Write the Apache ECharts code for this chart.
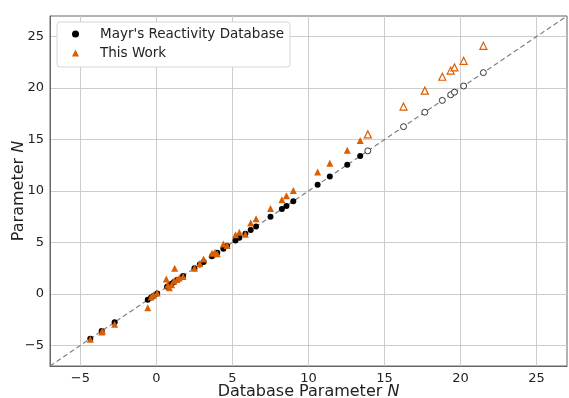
<!DOCTYPE html>
<html>
<head>
<meta charset="utf-8">
<script src="https://cdn.jsdelivr.net/npm/echarts@6/dist/echarts.min.js"></script>
<style>
  html, body { margin: 0; padding: 0; background: #fff; }
  #chart { width: 569px; height: 398px; }
</style>
</head>
<body>
<div id="chart"></div>
<script>
// Mayr database N (x) and its own value on y (filled = training set)
const mayrX = [-4.35, -3.6, -2.75, -0.57, -0.35, -0.2, 0.05, 0.7, 0.85, 1.0, 1.15, 1.35, 1.75,
  2.5, 2.85, 3.1, 3.65, 3.85, 4.0, 4.4, 4.65, 5.2, 5.45, 5.85, 6.2, 6.55, 7.5, 8.25, 8.55, 9.0,
  10.6, 11.4, 12.55, 13.4]
const mayrY = [-4.35, -3.6, -2.75, -0.57, -0.35, -0.2, 0.05, 0.7, 0.85, 1.0, 1.15, 1.35, 1.75,
  2.5, 2.85, 3.1, 3.65, 3.85, 4.0, 4.4, 4.65, 5.2, 5.45, 5.85, 6.2, 6.55, 7.5, 8.25, 8.55, 9.0,
  10.6, 11.4, 12.55, 13.4]
// open circles (outside range)
const mayrOpenX = [13.9, 16.25, 17.65, 18.8, 19.35, 19.6, 20.2, 21.5]
const mayrOpenY = [13.9, 16.25, 17.65, 18.8, 19.35, 19.6, 20.2, 21.5]

// this work
const workX = [-4.35, -3.6, -3.55, -2.75, -0.57, -0.35, -0.2, 0.05, 0.65, 0.75, 0.85, 1.0, 1.2,
  1.15, 1.35, 1.5, 1.75, 2.5, 2.85, 3.1, 3.65, 3.85, 4.0, 4.4, 4.65, 5.2, 5.45, 5.85, 6.2, 6.55,
  7.5, 8.25, 8.55, 9.0, 10.6, 11.4, 12.55, 13.4]
const workY = [-4.4, -3.7, -3.6, -2.95, -1.35, -0.3, -0.1, 0.1, 1.45, 0.85, 0.6, 0.9, 2.5,
  1.25, 1.4, 1.55, 1.7, 2.5, 2.95, 3.4, 3.95, 4.05, 3.9, 4.85, 4.7, 5.75, 6.0, 5.8, 6.9, 7.3,
  8.3, 9.15, 9.55, 10.05, 11.85, 12.7, 13.95, 14.9]
const workOpenX = [13.9, 16.25, 17.65, 18.8, 19.35, 19.6, 20.2, 21.5]
const workOpenY = [15.5, 18.2, 19.75, 21.1, 21.7, 22.0, 22.65, 24.1]

const ticks = [-5, 0, 5, 10, 15, 20, 25]
const axisMin = -7
const axisMax = 27

const pairs = (xs, ys) => xs.map((x, i) => [x, ys[i]])

const orange = '#d95f02'
const font = 'DejaVu Sans'

function axis (name, isY) {
  return {
    type: 'value',
    min: axisMin,
    max: axisMax,
    name: name,
    nameLocation: 'middle',
    nameGap: isY ? 23 : 18,
    nameMoveOverlap: false,
    nameTextStyle: {
      fontFamily: font, fontSize: 16, color: '#222',
      rich: { i: { fontFamily: font, fontSize: 16, fontStyle: 'italic', color: '#222' } }
    },
    axisLine: { show: true, onZero: false, lineStyle: { color: '#666', width: 1 } },
    axisTick: { show: false, customValues: ticks },
    axisLabel: {
      customValues: ticks,
      fontFamily: font, fontSize: 13, color: '#222', margin: 6,
      formatter: v => String(v).replace('-', '\u2212')
    },
    splitLine: { show: true, lineStyle: { color: '#cccccc', width: 1 } }
  }
}

let chart = echarts.init(document.getElementById('chart'))
chart.setOption({
  animation: false,
  backgroundColor: '#fff',
  grid: {
    left: 50, right: 2, top: 16, bottom: 32,
    outerBoundsMode: 'none', containLabel: false,
    show: true, borderColor: '#666', borderWidth: 1
  },
  xAxis: axis('Database Parameter {i|N}', false),
  yAxis: axis('Parameter {i|N}', true),
  legend: {
    data: ["Mayr's Reactivity Database", 'This Work'],
    orient: 'vertical',
    left: 57,
    top: 22,
    padding: [5, 6, 7, 15],
    itemGap: 5,
    itemWidth: 7,
    itemHeight: 7,
    backgroundColor: '#fff',
    borderColor: '#d6d6d6',
    borderWidth: 1,
    borderRadius: 3,
    textStyle: { fontFamily: font, fontSize: 13.5, color: '#222', padding: [0, 0, 0, 16] }
  },
  series: [
    {
      type: 'line',
      data: [[axisMin, axisMin], [axisMax, axisMax]],
      symbol: 'none',
      silent: true,
      lineStyle: { color: '#808080', width: 1.2, type: [5, 3] },
      z: 1
    },
    {
      name: "Mayr's Reactivity Database",
      type: 'scatter',
      data: pairs(mayrX, mayrY),
      symbol: 'circle',
      symbolSize: 6,
      itemStyle: { color: '#000', opacity: 1 },
      z: 3
    },
    {
      name: 'mayr-open',
      type: 'scatter',
      data: pairs(mayrOpenX, mayrOpenY),
      symbol: 'circle',
      symbolSize: 6,
      itemStyle: { color: '#fff', borderColor: '#333', borderWidth: 1, opacity: 1 },
      z: 3
    },
    {
      name: 'This Work',
      type: 'scatter',
      data: pairs(workX, workY),
      symbol: 'triangle',
      symbolSize: 7,
      itemStyle: { color: orange, opacity: 1 },
      z: 4
    },
    {
      name: 'work-open',
      type: 'scatter',
      data: pairs(workOpenX, workOpenY),
      symbol: 'triangle',
      symbolSize: 7,
      itemStyle: { color: '#fff', borderColor: orange, borderWidth: 1.2, opacity: 1 },
      z: 4
    }
  ]
})
</script>
</body>
</html>
